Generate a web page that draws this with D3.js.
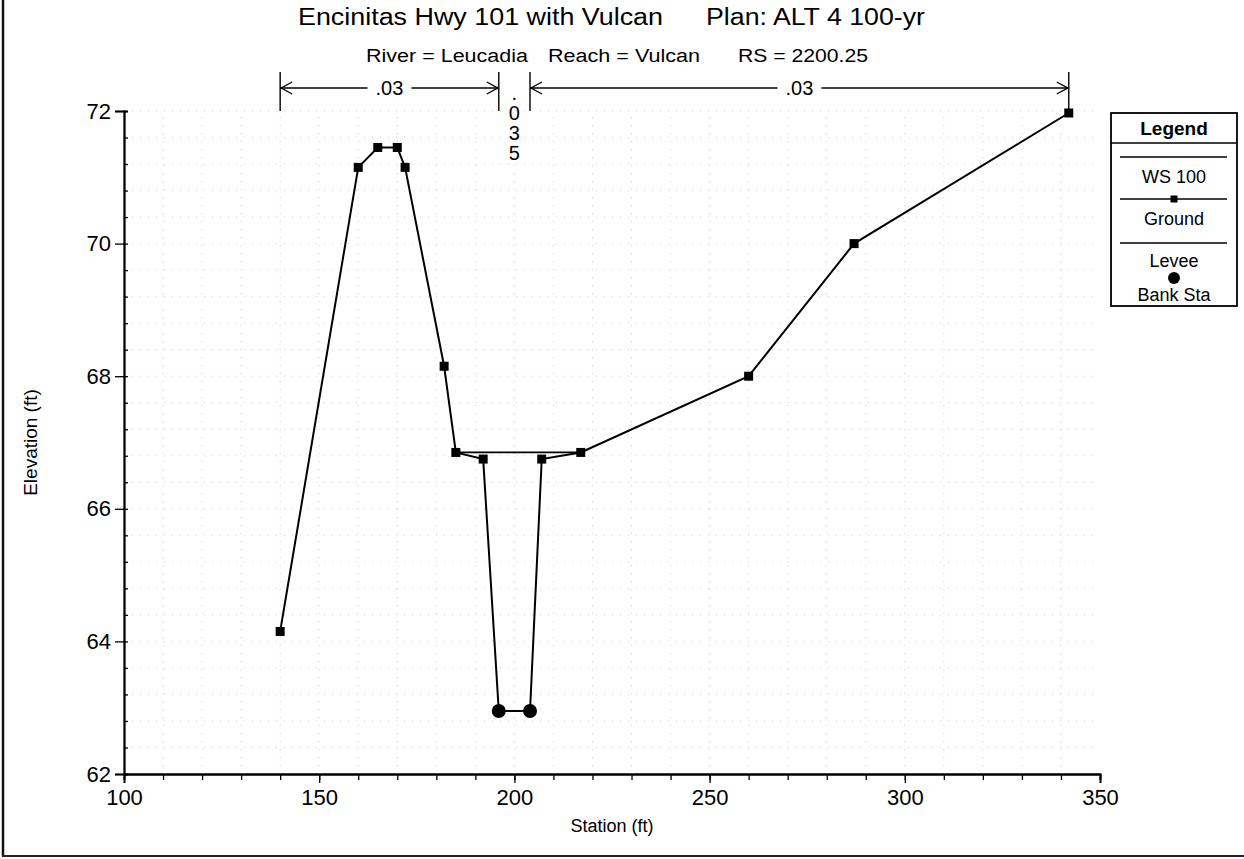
<!DOCTYPE html>
<html>
<head>
<meta charset="utf-8">
<script src="https://cdn.jsdelivr.net/npm/d3@7"></script>
<style>
  body { margin: 0; background: #fff; }
  svg { display: block; font-family: "Liberation Sans", Arial, sans-serif; }
</style>
</head>
<body>
<svg id="chart" width="1244" height="859"></svg>
<script>
// ground section
const groundStation = [140, 160, 165, 170, 172, 182, 185, 192, 196, 204, 207, 217, 260, 287, 342];
const groundElev = [64.15, 71.15, 71.45, 71.45, 71.15, 68.15, 66.85, 66.75, 62.95, 62.95, 66.75, 66.85, 68.0, 70.0, 71.97];
const wsStation = [185, 217];
const wsElev = [66.85, 66.85];
const bankStation = [196, 204];
const bankElev = [62.95, 62.95];
// manning's n breaks
const nBreaks = [140, 196, 204, 342];
const nLabels = ['.03', '.035', '.03'];
const xTicks = [100, 150, 200, 250, 300, 350];
const yTicks = [62, 64, 66, 68, 70, 72];
const legendItems = ['WS 100', 'Ground', 'Levee', 'Bank Sta'];

const svg = d3.select('#chart');
const x = d3.scaleLinear().domain([100, 350]).range([124, 1100]);
const y = d3.scaleLinear().domain([62, 72]).range([774, 111]);

// outer frame (left + bottom only show in the scan)
svg.append('line').attr('x1', 3).attr('x2', 3).attr('y1', 0).attr('y2', 856)
  .attr('stroke', '#111').attr('stroke-width', 2.5);
svg.append('line').attr('x1', 2).attr('x2', 1244).attr('y1', 856).attr('y2', 856)
  .attr('stroke', '#222').attr('stroke-width', 2);

// faint dotted grid
const grid = svg.append('g').attr('stroke', '#cfcfcf').attr('stroke-width', 1)
  .attr('stroke-dasharray', '1 7');
d3.range(62.4, 72.01, 0.4).forEach(v => {
  grid.append('line').attr('x1', x(100)).attr('x2', x(350)).attr('y1', y(v)).attr('y2', y(v));
});
d3.range(110, 350, 10).forEach(v => {
  grid.append('line').attr('x1', x(v)).attr('x2', x(v)).attr('y1', y(62)).attr('y2', y(72));
});

// axes
const xAxis = svg.append('g').attr('transform', `translate(0,${y(62)})`);
xAxis.call(d3.axisBottom(x).tickValues(d3.range(100, 351, 10)).tickSize(6).tickFormat(''));
xAxis.append('g').call(d3.axisBottom(x).tickValues(xTicks).tickSize(9).tickFormat(d3.format('d')));
xAxis.selectAll('path.domain').attr('stroke', '#000').attr('stroke-width', 1.8);
xAxis.selectAll('line').attr('stroke-width', 1.3);
xAxis.selectAll('text').attr('font-size', 22).attr('fill', '#000').attr('dy', '0.85em');

const yAxis = svg.append('g').attr('transform', `translate(${x(100)},0)`);
yAxis.call(d3.axisRight(y).tickValues(d3.range(62, 72.01, 0.4)).tickSize(4).tickFormat(''));
yAxis.append('g').call(d3.axisLeft(y).tickValues(yTicks).tickSize(9).tickFormat(d3.format('d')));
yAxis.selectAll('path.domain').attr('stroke', '#000').attr('stroke-width', 1.8);
yAxis.selectAll('line').attr('stroke-width', 1.3);
yAxis.selectAll('text').attr('font-size', 22).attr('fill', '#000').attr('dx', '-0.05em');

svg.append('text').attr('x', x(225)).attr('y', 832).attr('text-anchor', 'middle')
  .attr('font-size', 18).text('Station (ft)');
svg.append('text').attr('transform', `translate(37,${(y(62) + y(72)) / 2}) rotate(-90)`)
  .attr('text-anchor', 'middle').attr('font-size', 19).text('Elevation (ft)');

// titles
const t1 = svg.append('g').attr('font-size', 23);
t1.append('text').attr('x', 298).attr('y', 25).attr('textLength', 365)
  .attr('lengthAdjust', 'spacingAndGlyphs').text('Encinitas Hwy 101 with Vulcan');
t1.append('text').attr('x', 706).attr('y', 25).attr('textLength', 219)
  .attr('lengthAdjust', 'spacingAndGlyphs').text('Plan: ALT 4 100-yr');
const t2 = svg.append('g').attr('font-size', 18);
[['River = Leucadia', 366, 162], ['Reach = Vulcan', 548, 152], ['RS = 2200.25', 738, 130]]
  .forEach(([s, px, len]) => {
    t2.append('text').attr('x', px).attr('y', 62).attr('textLength', len)
      .attr('lengthAdjust', 'spacingAndGlyphs').text(s);
  });

// manning's n brackets
const nY = 88;
const nLayer = svg.append('g').attr('stroke', '#000').attr('stroke-width', 1.4).attr('fill', 'none');
nBreaks.forEach(b => {
  nLayer.append('line').attr('x1', x(b)).attr('x2', x(b)).attr('y1', 72).attr('y2', y(72));
});
[[0, 1], [2, 3]].forEach(([a, b]) => {
  const x0 = x(nBreaks[a]);
  const x1 = x(nBreaks[b]);
  const mid = (x0 + x1) / 2;
  nLayer.append('line').attr('x1', x0).attr('x2', mid - 22).attr('y1', nY).attr('y2', nY);
  nLayer.append('line').attr('x1', mid + 22).attr('x2', x1).attr('y1', nY).attr('y2', nY);
  nLayer.append('path').attr('d', `M${x0 + 12},${nY - 6}L${x0 + 1},${nY}L${x0 + 12},${nY + 6}`);
  nLayer.append('path').attr('d', `M${x1 - 12},${nY - 6}L${x1 - 1},${nY}L${x1 - 12},${nY + 6}`);
  svg.append('text').attr('x', mid).attr('y', nY + 7).attr('text-anchor', 'middle')
    .attr('font-size', 20).text(nLabels[a === 0 ? 0 : 2]);
});
const midX = (x(nBreaks[1]) + x(nBreaks[2])) / 2;
nLabels[1].split('').forEach((c, i) => {
  svg.append('text').attr('x', midX).attr('y', 100 + i * 20).attr('text-anchor', 'middle')
    .attr('font-size', 20).text(c);
});

// water surface
const line = d3.line().x(d => x(d[0])).y(d => y(d[1]));
svg.append('path').datum(d3.zip(wsStation, wsElev)).attr('d', line)
  .attr('fill', 'none').attr('stroke', '#000').attr('stroke-width', 1.8);

// ground
const ground = d3.zip(groundStation, groundElev);
svg.append('path').datum(ground).attr('d', line)
  .attr('fill', 'none').attr('stroke', '#000').attr('stroke-width', 2);
svg.selectAll('.gpt').data(ground).enter().append('rect').classed('gpt', true)
  .attr('x', d => x(d[0]) - 4.5).attr('y', d => y(d[1]) - 4.5)
  .attr('width', 9).attr('height', 9).attr('fill', '#000');

// bank stations
svg.selectAll('.bank').data(d3.zip(bankStation, bankElev)).enter().append('circle')
  .classed('bank', true).attr('cx', d => x(d[0])).attr('cy', d => y(d[1]))
  .attr('r', 7).attr('fill', '#000');

// legend
const lg = svg.append('g');
const lx = 1111;
const lw = 126;
const lcx = lx + lw / 2;
lg.append('rect').attr('x', lx).attr('y', 113).attr('width', lw).attr('height', 193)
  .attr('fill', '#fff').attr('stroke', '#000').attr('stroke-width', 1.8);
lg.append('line').attr('x1', lx).attr('x2', lx + lw).attr('y1', 143).attr('y2', 143)
  .attr('stroke', '#000').attr('stroke-width', 1.4);
lg.append('text').attr('x', lcx).attr('y', 135).attr('text-anchor', 'middle')
  .attr('font-size', 19).attr('font-weight', 'bold').text('Legend');
const symY = [157, 199, 243, 278];
const labY = [183, 225, 267, 301];
legendItems.forEach((s, i) => {
  if (i < 3) {
    lg.append('line').attr('x1', lx + 9).attr('x2', lx + lw - 10).attr('y1', symY[i]).attr('y2', symY[i])
      .attr('stroke', '#000').attr('stroke-width', 1.4);
  }
  if (i === 1) {
    lg.append('rect').attr('x', lcx - 3.5).attr('y', symY[i] - 3.5).attr('width', 7).attr('height', 7);
  }
  if (i === 3) {
    lg.append('circle').attr('cx', lcx).attr('cy', symY[i]).attr('r', 6);
  }
  lg.append('text').attr('x', lcx).attr('y', labY[i]).attr('text-anchor', 'middle')
    .attr('font-size', 18).text(s);
});
</script>
</body>
</html>
